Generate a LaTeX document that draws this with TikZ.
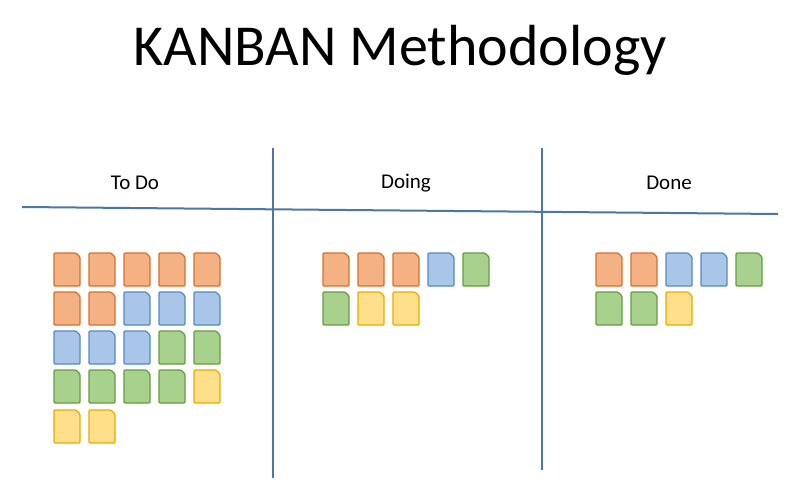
\documentclass[tikz,border=0pt]{standalone}
\usepackage{fontspec}
\setmainfont{Carlito}
\definecolor{oF}{HTML}{F4B183}\definecolor{oD}{HTML}{ED7D31}
\definecolor{bF}{HTML}{A9C6E8}\definecolor{bD}{HTML}{5B9BD5}
\definecolor{gF}{HTML}{A9D18E}\definecolor{gD}{HTML}{70AD47}
\definecolor{yF}{HTML}{FFE08A}\definecolor{yD}{HTML}{FFC000}
\definecolor{lineC}{HTML}{4A76A8}
\newcommand{\kcard}[3]{\draw[#3D!90!black,fill=#3F,line width=1.3pt,rounded corners=1pt] (#1,#2) -- (#1+22,#2) -- (#1+26,#2+4) -- (#1+26,#2+33) -- (#1,#2+33) -- cycle;}
\begin{document}
\begin{tikzpicture}[x=1pt,y=-1pt]
\useasboundingbox (0,0) rectangle (800,489);
\tikzset{lbl/.style={font=\fontsize{21}{24}\selectfont}, sep/.style={lineC,line width=2pt}}
\node (title) at (400,50) {\fontsize{58}{64}\selectfont KANBAN Methodology};
\coordinate (hl) at (22,207); \coordinate (hr) at (778,214);
\coordinate (v1t) at (273,148); \coordinate (v1b) at (273,478);
\coordinate (v2t) at (542,148); \coordinate (v2b) at (542,470);
\draw[sep] (hl) -- (hr); \draw[sep] (v1t) -- (v1b); \draw[sep] (v2t) -- (v2b);
\node[lbl] (todo) at (135,183) {To Do};
\node[lbl] (doing) at (406,183) {Doing};
\node[lbl] (done) at (669,183) {Done};
\foreach \x/\y/\c in {54/253/o,89/253/o,124/253/o,159/253/o,194/253/o,
 54/292/o,89/292/o,124/292/b,159/292/b,194/292/b,
 54/331/b,89/331/b,124/331/b,159/331/g,194/331/g,
 54/370/g,89/370/g,124/370/g,159/370/g,194/370/y,
 54/410/y,89/410/y,
 323/253/o,358/253/o,393/253/o,428/253/b,463/253/g,
 323/292/g,358/292/y,393/292/y,
 596/253/o,631/253/o,666/253/b,701/253/b,736/253/g,
 596/292/g,631/292/g,666/292/y}{\kcard{\x}{\y}{\c}}
\end{tikzpicture}
\end{document}
